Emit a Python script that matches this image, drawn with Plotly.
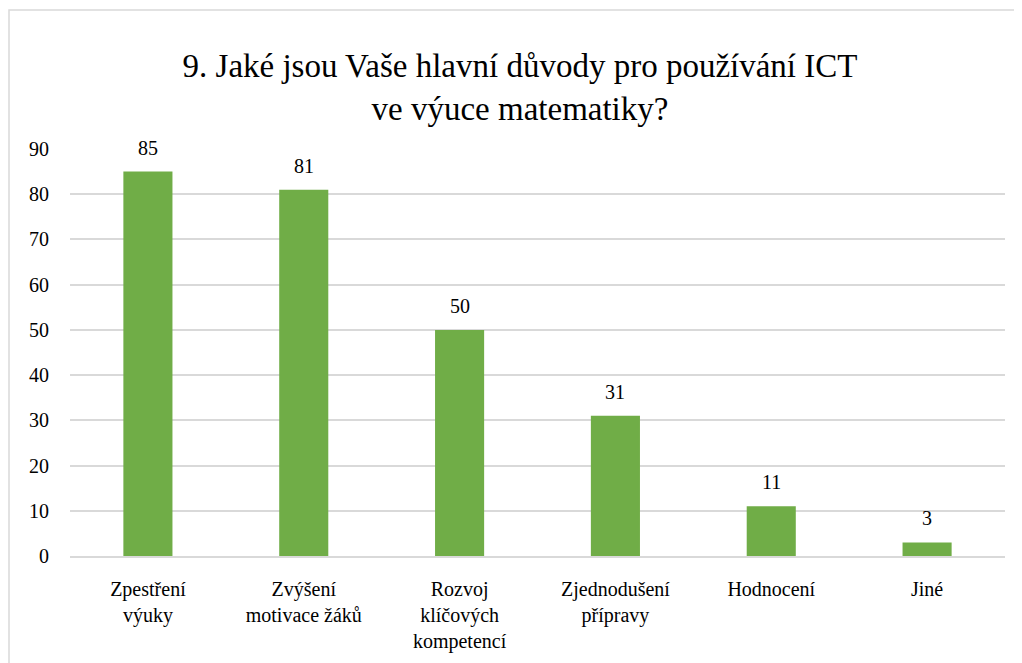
import plotly.graph_objects as go

categories = ["Zpestření<br>výuky", "Zvýšení<br>motivace žáků", "Rozvoj<br>klíčových<br>kompetencí",
              "Zjednodušení<br>přípravy", "Hodnocení", "Jiné"]
values = [85, 81, 50, 31, 11, 3]
y_ticks = list(range(0, 100, 10))

W, H = 1022, 663
OFF = 8  # page body margin offset
L, T = 70 - OFF, 149 - OFF
R = W - (1005 - OFF)
B = H - (556 - OFF)
pw = W - L - R
ph = H - T - B

font_family = "Tinos, 'Liberation Serif', 'Times New Roman', 'DejaVu Serif', 'PT Serif', serif"

fig = go.Figure()
fig.add_trace(go.Bar(
    x=categories, y=values,
    marker=dict(color="#70AD47", line=dict(width=0)),
    width=0.315,
    hoverinfo="x+y",
))

for c, v in zip(categories, values):
    fig.add_annotation(x=c, y=v, text=str(v), showarrow=False, yanchor="middle",
                       yshift=24, font=dict(family=font_family, size=20, color="#000000"))

# outer chart border
bx0, by0 = 9 - OFF, 10 - OFF
fig.add_shape(type="rect", xref="paper", yref="paper",
              x0=(bx0 - L) / pw, x1=(W + 20 - L) / pw,
              y0=-(H + 20 - T - ph) / ph, y1=(T - by0) / ph + 1,
              line=dict(color="#D9D9D9", width=1.5), fillcolor="rgba(0,0,0,0)", layer="below")

fig.update_layout(
    width=W, height=H,
    margin=dict(l=L, r=R, t=T, b=B, pad=0, autoexpand=False),
    paper_bgcolor="white", plot_bgcolor="white",
    showlegend=False,
    font=dict(family=font_family, size=20, color="#000000"),
    title=dict(text="9. Jaké jsou Vaše hlavní důvody pro používání ICT<br>ve výuce matematiky?",
               x=(520 - OFF) / W, xanchor="center", xref="container",
               y=1 - (77 - OFF) / H, yanchor="middle", yref="container",
               font=dict(family=font_family, size=33, color="#000000")),
    xaxis=dict(showgrid=False, showline=True, linecolor="#D9D9D9", linewidth=1.5,
               ticks="", tickfont=dict(size=20), ticklabelstandoff=14, automargin=False),
    yaxis=dict(range=[0, 90], tickvals=y_ticks, showgrid=True, gridcolor="#D9D9D9", gridwidth=1.5,
               zeroline=False, showline=False, ticks="", tickfont=dict(size=20),
               ticklabelstandoff=20, automargin=False),
)

fig.write_html("out.html")
